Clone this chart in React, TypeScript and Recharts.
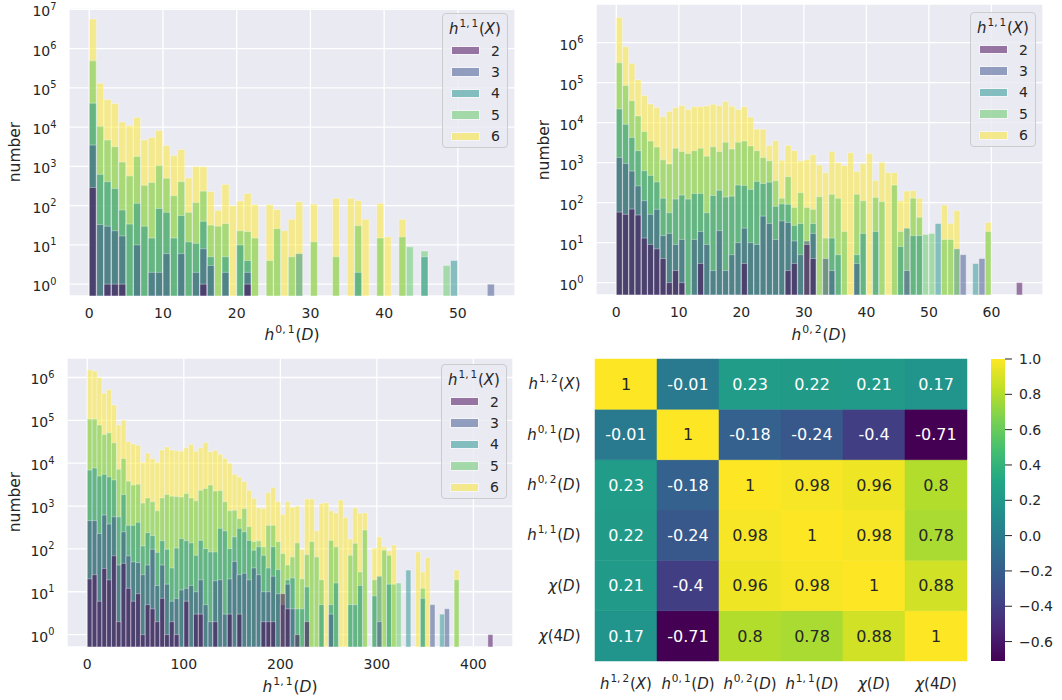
import React from 'react'
import {
  BarChart,
  Bar,
  XAxis,
  YAxis,
  CartesianGrid,
  Legend,
  Cell,
  LabelList,
} from 'recharts'

const FONT = '"DejaVu Sans", Verdana, sans-serif'
const INK = '#262626'
const PANEL_BG = '#eaeaf2'

// hue = h^{1,1}(X)
const hueLevels = [2, 3, 4, 5, 6]
const hueColors = ['#440154', '#3b528b', '#21918c', '#5ec962', '#fde725']

// ---------- h^{0,1}(D) histogram (bin width 1) ----------
const h01BinStart = [0,1,2,3,4,5,6,7,8,9,10,11,12,13,14,15,16,17,18,19,20,21,22,23,24,25,26,27,28,29,30,31,32,33,34,35,36,37,38,39,40,41,42,43,44,45,46,47,48,49,50,51,52,53,54]
const h01Count2 = [290,0,1,1,1,0,0,0,0,0, 0,0,0,0,0,1,0,0,0,0, 0,1,0,0,0,0,0,0,0,0, 0,0,0,0,0,0,0,0,0,0, 0,0,0,0,0,0,0,0,0,0, 0,0,0,0,0]
const h01Count3 = [3500,33,30,23,17,0,10,0,2,2, 6,0,6,0,2,8,3,0,2,0, 0,2,0,0,0,0,0,0,0,0, 0,0,0,0,0,0,0,0,0,0, 0,0,0,0,0,0,0,0,0,0, 0,0,0,0,1]
const h01Count4 = [41000,630,410,275,78,34,115,30,15,85, 68,15,56,12,11,40,5,0,5,0, 10,4,0,0,0,0,0,0,6,0, 0,0,0,0,0,0,2,0,0,0, 0,0,0,0,0,5,0,0,0,4, 0,0,0,0,0]
const h01Count5 = [490000,10500,4700,3200,1300,575,1800,330,390,1050, 500,180,410,68,120,235,32,30,35,0, 23,22,15,0,4,26,0,5,0,0, 12,0,0,5,0,0,31,0,0,15, 0,0,16,9,0,7,0,0,3,0, 0,0,0,0,0]
const h01Count6 = [5700000,132000,51000,40000,13500,11000,17800,4700,5500,8300, 3400,1900,2700,510,1000,980,230,76,350,100, 132,205,107,0,107,80,23,45,126,0, 110,0,0,155,0,155,135,45,0,115, 16,0,45,0,0,0,0,0,0,0, 0,0,0,0,0]

// ---------- h^{0,2}(D) histogram (bin width 1) ----------
const h02BinStart = [0,1,2,3,4,5,6,7,8,9,10,11,12,13,14,15,16,17,18,19,20,21,22,23,24,25,26,27,28,29,30,31,32,33,34,35,36,37,38,39,40,41,42,43,44,45,46,47,48,49,50,51,52,53,54,55,56,57,58,59,60,61,62,63,64]
const h02Count2 = [58,51,69,49,13,9,7,4,1,2, 1,0,0,3,0,0,0,0,0,0, 3,0,0,0,0,0,0,2,3,0, 9,4,0,0,0,0,0,0,0,0, 0,0,0,0,0,0,0,0,0,0, 0,0,0,0,0,0,0,0,0,0, 0,0,0,0,1]
const h02Count3 = [1350,955,617,263,112,51,68,15,17,9, 12,0,12,19,9,2,20,2,5,10, 23,10,9,46,30,12,35,32,11,5, 11,17,0,4,2,0,0,0,3,0, 0,0,0,0,0,0,2,0,0,0, 0,0,0,0,0,5,0,0,4,0, 0,0,0,0,0]
const h02Count4 = [22000,9100,4270,2000,630,480,330,129,56,123, 155,123,170,170,56,151,204,138,145,275, 270,214,340,300,325,81,93,91,27,30, 0,30,0,0,13,5,0,0,5,17, 0,19,0,0,0,8,23,15,15,0, 0,30,0,0,7,0,0,3,0,0, 0,0,0,0,0]
const h02Count5 = [316000,85000,35500,14800,6000,3470,2450,1175,930,2300, 1900,1700,2000,2300,1450,2500,1900,3240,2200,3240, 3470,2630,2000,1350,1120,355,129,447,76,178, 76,68,141,13,162,129,19,0,162,112, 0,135,107,0,275,19,0,129,43,16, 17,0,12,12,0,0,0,0,0,19, 0,0,0,0,0]
const h02Count6 = [4300000,794000,302000,117500,48000,29500,24000,14000,19000,24000, 27000,21400,25000,25000,26300,29000,27000,34000,25700,21400, 25000,13800,6900,6900,2700,3550,1150,2700,2000,1100, 1175,1585,870,562,1900,1000,850,1780,600,955, 1700,355,1020,562,562,112,195,200,129,0, 0,0,87,30,63,0,0,0,0,32, 0,0,0,0,0]

// ---------- h^{1,1}(D) histogram (bin width 5) ----------
const h11BinStart = [0,5,10,15,20,25,30,35,40,45, 50,55,60,65,70,75,80,85,90,95, 100,105,110,115,120,125,130,135,140,145, 150,155,160,165,170,175,180,185,190,195, 200,205,210,215,220,225,230,235,240,245, 250,255,260,265,270,275,280,285,290,295, 300,305,310,315,320,325,330,335,340,345, 350,355,360,365,370,375,380,385,390,395, 400,405,410,415]
const h11Count2 = [20,25,6,35,19,69,2,46,12,6, 9,1,5,4,2,7,1,2,1,0, 6,0,3,3,0,0,2,0,0,3, 0,3,0,0,0,0,2,2,2,0, 9,4,0,1,0,2,0,0,0,0, 0,0,0,0,0,0,0,0,0,0, 0,0,0,0,0,0,0,0,0,0, 0,0,0,0,0,0,0,0,0,0, 0,0,0,1]
const h11Count3 = [457,457,229,617,380,562,42,251,69,50, 48,25,42,98,14,42,15,6,7,11, 12,14,10,19,5,2,18,19,3,20, 51,25,27,19,36,25,10,10,23,9, 5,15,4,0,0,0,0,0,0,0, 3,0,0,0,0,0,0,0,0,0, 2,0,0,0,0,0,0,0,0,0, 0,5,0,0,4,0,0,0,0,0, 0,0,0,0]
const h11Count4 = [6900,7760,5000,5500,4800,4070,562,1860,355,355, 417,117,240,204,83,155,98,36,105,174, 155,138,71,158,102,85,85,302,263,102, 191,302,251,158,93,112,71,36,112,33, 0,19,21,4,4,13,0,0,5,0, 5,16,0,0,5,5,14,0,0,8, 23,0,15,0,0,0,32,0,0,7, 0,0,0,3,0,0,0,0,0,0, 0,0,0,0]
const h11Count5 = [107000,107000,78000,47000,51000,30000,7240,12900,3800,3090, 3240,1175,1550,1260,776,1550,1860,1700,1660,1620, 1950,1550,1320,2340,2570,3090,2240,2290,1260,776, 794,513,871,331,148,155,112,355,355,148, 78,42,65,138,20,74,148,65,19,0, 158,112,0,0,71,135,29,275,0,19, 0,93,71,15,16,0,0,0,0,12, 0,0,0,0,0,0,19,0,0,0, 0,0,0,0]
const h11Count6 = [1510000,1410000,1000000,427000,525000,229000,78000,102000,31600,28200, 26300,10500,17400,12900,10500,20400,24000,20400,19500,19000, 22900,27500,19000,22900,30200,18600,20000,16200,12900,10000, 5500,4790,3720,2340,1510,912,871,2040,2690,1260, 631,1260,933,1000,98,1450,1450,263,1150,1200, 776,692,1380,537,170,912,676,692,0,105, 191,112,89,123,0,0,0,0,85,29, 63,0,0,0,0,0,32,0,0,0, 0,0,0,0]

// ---------- correlation heatmap ----------
const corrNames = ['h12X', 'h01D', 'h02D', 'h11D', 'chiD', 'chi4D']
const corrMatrix = [
  [1, -0.01, 0.23, 0.22, 0.21, 0.17],
  [-0.01, 1, -0.18, -0.24, -0.4, -0.71],
  [0.23, -0.18, 1, 0.98, 0.96, 0.8],
  [0.22, -0.24, 0.98, 1, 0.98, 0.78],
  [0.21, -0.4, 0.96, 0.98, 1, 0.88],
  [0.17, -0.71, 0.8, 0.78, 0.88, 1],
]
const corrMin = -0.71
const corrMax = 1
const colorbarTicks = [-0.6, -0.4, -0.2, 0, 0.2, 0.4, 0.6, 0.8, 1.0]

const viridisStops = ['#440154', '#482475', '#414487', '#355f8d', '#2a788e', '#21918c', '#22a884', '#44bf70', '#7ad151', '#bddf26', '#fde725']

function viridis(t: number) {
  const c = Math.max(0, Math.min(1, t)) * (viridisStops.length - 1)
  const i = Math.min(Math.floor(c), viridisStops.length - 2)
  const f = c - i
  const a = parseInt(viridisStops[i].slice(1), 16)
  const b = parseInt(viridisStops[i + 1].slice(1), 16)
  const mix = (s: number) => Math.round(((a >> s) & 255) * (1 - f) + ((b >> s) & 255) * f)
  return `rgb(${mix(16)},${mix(8)},${mix(0)})`
}

// math labels: base^{sup}(arg)
type Seg = { t: string; it?: boolean }
type MathSpec = { base: string; sup?: string; arg: Seg[] }
const D: Seg = { t: 'D', it: true }
const X: Seg = { t: 'X', it: true }
const mathLabels: Record<string, MathSpec> = {
  h12X: { base: 'h', sup: '1,\u20092', arg: [X] },
  h01D: { base: 'h', sup: '0,\u20091', arg: [D] },
  h02D: { base: 'h', sup: '0,\u20092', arg: [D] },
  h11D: { base: 'h', sup: '1,\u20091', arg: [D] },
  chiD: { base: 'χ', arg: [D] },
  chi4D: { base: 'χ', arg: [{ t: '4' }, D] },
  h11X: { base: 'h', sup: '1,\u20091', arg: [X] },
}

function MathSvg({ x, y, spec, size, anchor }: { x: number; y: number; spec: MathSpec; size: number; anchor: string }) {
  const rise = size * 0.45
  return (
    <text x={x} y={y} textAnchor={anchor} fontFamily={FONT} fontSize={size} fill={INK}>
      <tspan fontStyle="italic">{spec.base}</tspan>
      {spec.sup && <tspan fontSize={size * 0.7} dx={size * 0.06} dy={-rise}>{spec.sup}</tspan>}
      <tspan dx={spec.sup ? size * 0.05 : 0} dy={spec.sup ? rise : 0}>(</tspan>
      {spec.arg.map((s, i) => (
        <tspan key={i} fontStyle={s.it ? 'italic' : 'normal'}>{s.t}</tspan>
      ))}
      <tspan>)</tspan>
    </text>
  )
}

function MathHtml({ spec }: { spec: MathSpec }) {
  return (
    <span>
      <i>{spec.base}</i>
      {spec.sup && (
        <span style={{ fontSize: '0.7em', position: 'relative', top: '-0.65em', marginLeft: '0.08em', marginRight: '0.06em' }}>
          {spec.sup}
        </span>
      )}
      ({spec.arg.map((s, i) => (s.it ? <i key={i}>{s.t}</i> : <span key={i}>{s.t}</span>))})
    </span>
  )
}

function histRows(binStart: number[], binWidth: number, counts: number[][]) {
  return binStart.map((b, i) => {
    const row: Record<string, number | null> = { x: b + binWidth / 2 }
    hueLevels.forEach((h, k) => {
      const v = counts[k][i]
      row['h' + h] = v > 0 ? v : null
    })
    return row
  })
}

const h01Data = histRows(h01BinStart, 1, [h01Count2, h01Count3, h01Count4, h01Count5, h01Count6])
const h02Data = histRows(h02BinStart, 1, [h02Count2, h02Count3, h02Count4, h02Count5, h02Count6])
const h11Data = histRows(h11BinStart, 5, [h11Count2, h11Count3, h11Count4, h11Count5, h11Count6])

const colorOf = (h: number) => hueColors[hueLevels.indexOf(h)]
// seaborn layers the first hue level on top
const drawOrder = [6, 5, 4, 3, 2]

function NumTick(props: any) {
  const { x, y, payload } = props
  return (
    <text x={x} y={y + 22} textAnchor="middle" fontFamily={FONT} fontSize={14} fill={INK}>
      {payload.value}
    </text>
  )
}

function PowTick(props: any) {
  const { x, y, payload } = props
  const e = Math.round(Math.log10(payload.value))
  return (
    <text x={x - 12.5} y={y + 7} textAnchor="end" fontFamily={FONT} fontSize={14} fill={INK}>
      10<tspan fontSize={9.8} dy={-6.5}>{e}</tspan>
    </text>
  )
}

function HueLegend() {
  return (
    <div
      style={{
        width: 66,
        height: 135,
        boxSizing: 'border-box',
        border: '1px solid #cccccc',
        borderRadius: 4,
        background: 'rgba(234,234,242,0.8)',
        fontFamily: FONT,
        color: INK,
        paddingTop: 4,
      }}
    >
      <div style={{ textAlign: 'center', fontSize: 15, height: 22, lineHeight: '22px' }}>
        <MathHtml spec={mathLabels.h11X} />
      </div>
      {hueLevels.map((h, i) => (
        <div key={h} style={{ display: 'flex', alignItems: 'center', height: 21.4 }}>
          <div
            style={{
              marginLeft: 8,
              width: 29,
              height: 9.5,
              boxSizing: 'border-box',
              background: hueColors[i],
              opacity: 0.5,
              border: '0.8px solid #ffffff',
            }}
          />
          <div style={{ marginLeft: 'auto', marginRight: 7, fontSize: 14, lineHeight: '16px' }}>{h}</div>
        </div>
      ))}
    </div>
  )
}

interface HistProps {
  data: Record<string, number | null>[]
  width: number
  height: number
  margin: { top: number; right: number; bottom: number; left: number }
  yAxisWidth: number
  xAxisHeight: number
  xDomain: [number, number]
  xTicks: number[]
  yDomain: [number, number]
  yTicks: number[]
  legendAt: { left: number; top: number }
}

function LogHist(p: HistProps) {
  return (
    <BarChart width={p.width} height={p.height} data={p.data} margin={p.margin} barCategoryGap={0} barGap={0}>
      <CartesianGrid xAxisId="main" fill={PANEL_BG} fillOpacity={1} stroke="#ffffff" strokeWidth={1.3} />
      <XAxis
        xAxisId="main"
        dataKey="x"
        type="number"
        domain={p.xDomain}
        ticks={p.xTicks}
        allowDataOverflow
        axisLine={false}
        tickLine={false}
        tickSize={0}
        tickMargin={0}
        height={p.xAxisHeight}
        interval={0}
        tick={<NumTick />}
      />
      {drawOrder.map(h => (
        <XAxis key={h} xAxisId={'x' + h} dataKey="x" type="number" domain={p.xDomain} allowDataOverflow hide />
      ))}
      <YAxis
        scale="log"
        type="number"
        domain={p.yDomain}
        ticks={p.yTicks}
        allowDataOverflow
        axisLine={false}
        tickLine={false}
        tickSize={0}
        tickMargin={0}
        width={p.yAxisWidth}
        interval={0}
        tick={<PowTick />}
      />
      {drawOrder.map(h => (
        <Bar
          key={h}
          xAxisId={'x' + h}
          dataKey={'h' + h}
          fill={colorOf(h)}
          fillOpacity={0.5}
          stroke="#ffffff"
          strokeOpacity={0.5}
          strokeWidth={0.7}
          isAnimationActive={false}
        />
      ))}
      <Legend
        layout="vertical"
        align="center"
        verticalAlign="middle"
        wrapperStyle={{ left: p.legendAt.left, top: p.legendAt.top, width: 66, height: 135 }}
        content={() => <HueLegend />}
      />
    </BarChart>
  )
}

// heatmap: one stacked column per variable, one unit-high cell per row
const heatData = corrNames.map(name => ({ name, r0: 1, r1: 1, r2: 1, r3: 1, r4: 1, r5: 1 }))
const rowsBottomUp = [5, 4, 3, 2, 1, 0]

function HeatXTick(props: any) {
  const { x, y, payload } = props
  return <MathSvg x={x} y={y + 25.5} spec={mathLabels[payload.value]} size={15} anchor="middle" />
}

function HeatYTick(props: any) {
  const { x, y, payload } = props
  const r = 5 - Math.floor(payload.value)
  return <MathSvg x={x - 12.5} y={y + 5} spec={mathLabels[corrNames[r]]} size={15} anchor="end" />
}

function ColorbarTick(props: any) {
  const { x, y, payload } = props
  const s = Number(payload.value).toFixed(1).replace('-', '\u2212')
  return (
    <text x={x} y={y + 5} textAnchor="start" fontFamily={FONT} fontSize={14} fill={INK}>
      {s}
    </text>
  )
}

function CorrHeatmap() {
  return (
    <BarChart width={470} height={355} data={heatData} margin={{ top: 14, right: 13, bottom: 0, left: 0 }} barCategoryGap={0} barGap={0}>
      <XAxis dataKey="name" axisLine={false} tickLine={false} tickSize={0} height={39} interval={0} tick={<HeatXTick />} />
      <YAxis
        type="number"
        domain={[0, 6]}
        ticks={[0.5, 1.5, 2.5, 3.5, 4.5, 5.5]}
        axisLine={false}
        tickLine={false}
        tickSize={0}
        width={85}
        interval={0}
        tick={<HeatYTick />}
      />
      {rowsBottomUp.map(r => (
        <Bar key={r} dataKey={'r' + r} stackId="m" isAnimationActive={false}>
          {corrNames.map((n, c) => {
            const col = viridis((corrMatrix[r][c] - corrMin) / (corrMax - corrMin))
            return <Cell key={n} fill={col} stroke={col} strokeWidth={0.5} />
          })}
          <LabelList
            dataKey={'r' + r}
            content={(lp: any) => {
              const v = corrMatrix[r][lp.index]
              return (
                <text
                  x={lp.x + lp.width / 2}
                  y={lp.y + lp.height / 2 + 5.8}
                  textAnchor="middle"
                  fontFamily={FONT}
                  fontSize={16}
                  fill={v > 0.6 ? INK : '#ffffff'}
                >
                  {String(v)}
                </text>
              )
            }}
          />
        </Bar>
      ))}
    </BarChart>
  )
}

const colorbarData = [{ k: 'cb', v: [corrMin, corrMax] }]

function Colorbar() {
  return (
    <BarChart width={82} height={355} data={colorbarData} margin={{ top: 14, right: 0, bottom: 39, left: 11 }} barCategoryGap={0}>
      <defs>
        <linearGradient id="viridisBar" x1="0" y1="1" x2="0" y2="0">
          {viridisStops.map((c, i) => (
            <stop key={c} offset={i / (viridisStops.length - 1)} stopColor={c} />
          ))}
        </linearGradient>
      </defs>
      <XAxis dataKey="k" hide />
      <YAxis
        orientation="right"
        type="number"
        domain={[corrMin, corrMax]}
        ticks={colorbarTicks}
        allowDataOverflow
        axisLine={false}
        tickLine={{ stroke: INK, strokeWidth: 1 }}
        tickSize={7}
        tickMargin={7}
        width={57}
        interval={0}
        tick={<ColorbarTick />}
      />
      <Bar dataKey="v" fill="url(#viridisBar)" isAnimationActive={false} />
    </BarChart>
  )
}

function YTitle({ x, y }: { x: number; y: number }) {
  return (
    <text x={x} y={y} transform={`rotate(-90 ${x} ${y})`} textAnchor="middle" fontFamily={FONT} fontSize={15.5} fill={INK}>
      number
    </text>
  )
}

export default function App() {
  return (
    <div style={{ position: 'absolute', left: 0, top: 0, width: 1062, height: 700, background: '#ffffff', overflow: 'hidden' }}>
      <div style={{ position: 'absolute', left: 0, top: 0 }}>
        <LogHist
          data={h01Data}
          width={530}
          height={345}
          margin={{ top: 8, right: 15, bottom: 0, left: 0 }}
          yAxisWidth={69}
          xAxisHeight={49}
          xDomain={[-2.75, 57.75]}
          xTicks={[0, 10, 20, 30, 40, 50]}
          yDomain={[0.5, 1.09e7]}
          yTicks={[1, 10, 100, 1e3, 1e4, 1e5, 1e6, 1e7]}
          legendAt={{ left: 442, top: 13 }}
        />
      </div>
      <div style={{ position: 'absolute', left: 530, top: 0 }}>
        <LogHist
          data={h02Data}
          width={532}
          height={345}
          margin={{ top: 4, right: 19, bottom: 0, left: 0 }}
          yAxisWidth={66}
          xAxisHeight={50}
          xDomain={[-3.25, 68.25]}
          xTicks={[0, 10, 20, 30, 40, 50, 60]}
          yDomain={[0.49, 9.3e6]}
          yTicks={[1, 10, 100, 1e3, 1e4, 1e5, 1e6]}
          legendAt={{ left: 440, top: 12 }}
        />
      </div>
      <div style={{ position: 'absolute', left: 0, top: 345 }}>
        <LogHist
          data={h11Data}
          width={530}
          height={355}
          margin={{ top: 13, right: 17, bottom: 0, left: 0 }}
          yAxisWidth={67}
          xAxisHeight={53}
          xDomain={[-21, 441]}
          xTicks={[0, 100, 200, 300, 400]}
          yDomain={[0.513, 2.85e6]}
          yTicks={[1, 10, 100, 1e3, 1e4, 1e5, 1e6]}
          legendAt={{ left: 441, top: 19 }}
        />
      </div>
      <div style={{ position: 'absolute', left: 510, top: 345 }}>
        <CorrHeatmap />
      </div>
      <div style={{ position: 'absolute', left: 980, top: 345 }}>
        <Colorbar />
      </div>
      <svg width={1062} height={700} style={{ position: 'absolute', left: 0, top: 0, pointerEvents: 'none' }}>
        <MathSvg x={292} y={340} spec={mathLabels.h01D} size={15.5} anchor="middle" />
        <MathSvg x={819} y={340} spec={mathLabels.h02D} size={15.5} anchor="middle" />
        <MathSvg x={290} y={692} spec={mathLabels.h11D} size={15.5} anchor="middle" />
        <YTitle x={19.5} y={152} />
        <YTitle x={549} y={150} />
        <YTitle x={19.5} y={502} />
      </svg>
    </div>
  )
}
